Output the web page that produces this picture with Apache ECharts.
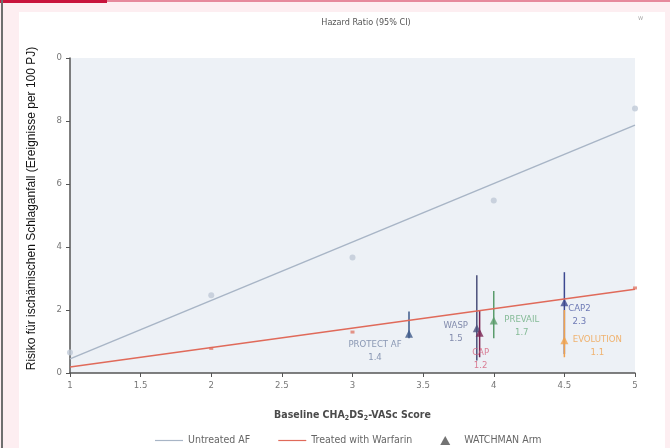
<!DOCTYPE html>
<html>
<head>
<meta charset="utf-8">
<script src="https://cdn.jsdelivr.net/npm/echarts@6/dist/echarts.min.js"></script>
<style>
  html, body { margin: 0; padding: 0; }
  body { width: 670px; height: 448px; background: #fdeef1; position: relative; overflow: hidden; }
  #topline { position: absolute; left: 0; top: 0; width: 670px; height: 2px; background: #e6899c; }
  #tab { position: absolute; left: 0; top: 0; width: 107px; height: 3px; background: #c8143c; }
  #leftline { position: absolute; left: 1px; top: 0; width: 2px; height: 448px; background: #6e6e6e; }
  #panel { position: absolute; left: 19px; top: 12px; width: 646px; height: 436px; background: #ffffff; }
  #chart { position: absolute; left: 0; top: 0; width: 670px; height: 448px; }
</style>
</head>
<body>
<div id="topline"></div>
<div id="tab"></div>
<div id="leftline"></div>
<div id="panel"></div>
<div id="chart"></div>
<script>
// CHA2DS2-VASc score vs. stroke rate
var scores = [1, 2, 3, 4, 5];
var untreatedRates = [0.65, 2.47, 3.67, 5.48, 8.4];
var fitScores = [1, 5];
var untreatedFit = [0.45, 7.87];
var warfarinFit = [0.19, 2.66];
var warfarinScores = [2, 3, 5];
var warfarinRates = [0.78, 1.3, 2.7];

// WATCHMAN arms
var armNames = ['PROTECT AF', 'WASP', 'CAP', 'PREVAIL', 'CAP2', 'EVOLUTION'];
var armScores = [3.4, 3.88, 3.9, 4.0, 4.5, 4.5];
var armRates = [1.25, 1.42, 1.28, 1.67, 2.25, 1.04];
var armLow = [1.1, 0.4, 0.5, 1.1, 0.6, 0.5];
var armHigh = [1.95, 3.1, 2.0, 2.6, 3.2, 2.0];
var armHR = ['1.4', '1.5', '1.2', '1.7', '2.3', '1.1'];

var yTickLabels = ['0', '2', '4', '6', '8', '0'];

var armStyle = {
  'PROTECT AF': { color: '#3e5a8a', label: '#7081a3', offset: [-34, 17] },
  'WASP':       { color: '#4a4f7a', label: '#66719a', offset: [-21, 4] },
  'CAP':        { color: '#7a2452', label: '#d4607c', offset: [1, 26] },
  'PREVAIL':    { color: '#5a9c6c', label: '#6cae80', offset: [28, 6] },
  'CAP2':       { color: '#3c4890', label: '#4c5aa4', offset: [15, 13] },
  'EVOLUTION':  { color: '#f0a24e', label: '#f0a24e', offset: [33, 6] }
};

var condensed = "'Liberation Sans Narrow', 'DejaVu Sans Condensed', sans-serif";

var dom = document.getElementById('chart');
var myChart = echarts.init(dom, null, { renderer: 'canvas' });

var barData = armNames.map(function (n, i) {
  return [armScores[i], armLow[i], armHigh[i]];
});

var armData = armNames.map(function (n, i) {
  var s = armStyle[n];
  return {
    name: n,
    value: [armScores[i], armRates[i]],
    itemStyle: { color: s.color },
    label: { formatter: n + '\n' + armHR[i], color: s.label, offset: s.offset }
  };
});

var option = {
  animation: false,
  textStyle: { fontFamily: condensed },
  title: {
    text: 'Hazard Ratio (95% CI)',
    left: 361,
    textAlign: 'center',
    top: 13,
    textStyle: { fontSize: 9, fontWeight: 'normal', color: '#555', fontFamily: condensed }
  },
  graphic: [{
    type: 'text', left: 638, top: 15,
    style: { text: 'w', fill: '#aaa', fontSize: 7, fontFamily: condensed }
  }],
  grid: {
    left: 70, right: 35, top: 58, bottom: 75,
    show: true, backgroundColor: '#edf1f6', borderWidth: 0
  },
  legend: {
    left: 150, top: 430,
    itemWidth: 28, itemHeight: 9, itemGap: 28,
    textStyle: { color: '#666', fontSize: 10.5, fontFamily: condensed },
    data: [
      { name: 'Untreated AF', icon: 'path://M0,0 L28,0 L28,1.2 L0,1.2 Z' },
      { name: 'Treated with Warfarin', icon: 'path://M0,0 L28,0 L28,1.2 L0,1.2 Z' },
      { name: 'WATCHMAN Arm', icon: 'path://M5,0 L10,9 L0,9 Z' }
    ]
  },
  xAxis: {
    type: 'value', min: 1, max: 5, interval: 0.5,
    name: '{b|Baseline CHA}{s|2}{b|DS}{s|2}{b|-VASc Score}',
    nameLocation: 'middle', nameGap: 35,
    nameTextStyle: {
      rich: {
        b: { fontSize: 10.5, fontWeight: 'bold', color: '#4a4a4a', fontFamily: condensed },
        s: { fontSize: 7, fontWeight: 'bold', color: '#4a4a4a', fontFamily: condensed, padding: [7, 0, 0, 0] }
      }
    },
    splitLine: { show: false },
    axisLine: { lineStyle: { color: '#555', width: 1.5 } },
    axisTick: { length: 4, lineStyle: { color: '#555' } },
    axisLabel: { color: '#777', fontSize: 9.5, margin: 8 }
  },
  yAxis: {
    type: 'value', min: 0, max: 10, interval: 2,
    name: 'Risiko für ischämischen Schlaganfall (Ereignisse per 100 PJ)',
    nameLocation: 'middle', nameGap: 32,
    nameTextStyle: {
      color: '#111', fontSize: 12, padding: [0, 0, 0, 14],
      fontFamily: "'Liberation Sans', Arial, sans-serif"
    },
    splitLine: { show: false },
    axisLine: { show: true, lineStyle: { color: '#555', width: 1.5 } },
    axisTick: { show: true, length: 4, lineStyle: { color: '#555' } },
    axisLabel: {
      color: '#777', fontSize: 9.5, margin: 8,
      formatter: function (v) { return yTickLabels[Math.round(v / 2)]; }
    }
  },
  series: [
    {
      name: 'Untreated AF', type: 'line',
      data: fitScores.map(function (x, i) { return [x, untreatedFit[i]]; }),
      showSymbol: false, symbol: 'none',
      itemStyle: { color: '#a8b5c6' },
      lineStyle: { color: '#a8b5c6', width: 1.5 }
    },
    {
      name: 'Treated with Warfarin', type: 'line',
      data: fitScores.map(function (x, i) { return [x, warfarinFit[i]]; }),
      showSymbol: false, symbol: 'none',
      itemStyle: { color: '#e06a5a' },
      lineStyle: { color: '#e06a5a', width: 1.5 }
    },
    {
      name: 'untreated points', type: 'scatter',
      data: scores.map(function (x, i) { return [x, untreatedRates[i]]; }),
      symbol: 'circle', symbolSize: 6,
      itemStyle: { color: '#bfc9d7' }
    },
    {
      name: 'warfarin points', type: 'scatter',
      data: warfarinScores.map(function (x, i) { return [x, warfarinRates[i]]; }),
      symbol: 'rect', symbolSize: [4, 3],
      itemStyle: { color: '#e07a6a' }
    },
    {
      name: 'arm CI', type: 'custom',
      data: barData,
      renderItem: function (params, api) {
        var x = api.value(0);
        var lo = api.coord([x, api.value(1)]);
        var hi = api.coord([x, api.value(2)]);
        return {
          type: 'line',
          shape: { x1: lo[0], y1: lo[1], x2: hi[0], y2: hi[1] },
          style: { stroke: armStyle[armNames[params.dataIndex]].color, lineWidth: 1.5 }
        };
      }
    },
    {
      name: 'WATCHMAN Arm', type: 'scatter',
      data: armData,
      symbol: 'triangle', symbolSize: 8,
      itemStyle: { color: '#505050' },
      label: {
        show: true, position: 'inside',
        fontSize: 9.5, lineHeight: 13, fontFamily: condensed
      }
    }
  ]
};

myChart.setOption(option);
window.addEventListener('resize', myChart.resize);
</script>
</body>
</html>
